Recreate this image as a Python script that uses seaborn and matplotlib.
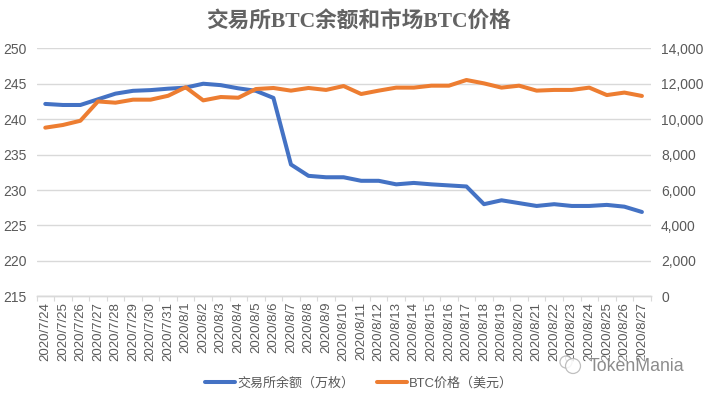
import matplotlib
matplotlib.use("Agg")
import matplotlib.pyplot as plt
from matplotlib.lines import Line2D
from matplotlib.patches import Circle
from matplotlib.ticker import FixedLocator, FuncFormatter
import numpy as np
import pandas as pd
import seaborn as sns

dates = ["2020/7/24","2020/7/25","2020/7/26","2020/7/27","2020/7/28","2020/7/29","2020/7/30","2020/7/31",
         "2020/8/1","2020/8/2","2020/8/3","2020/8/4","2020/8/5","2020/8/6","2020/8/7","2020/8/8","2020/8/9",
         "2020/8/10","2020/8/11","2020/8/12","2020/8/13","2020/8/14","2020/8/15","2020/8/16","2020/8/17",
         "2020/8/18","2020/8/19","2020/8/20","2020/8/21","2020/8/22","2020/8/23","2020/8/24","2020/8/25",
         "2020/8/26","2020/8/27"]
balance = [242.15,242.0,242.0,242.8,243.6,244.0,244.1,244.3,244.45,245.0,244.8,244.35,244.0,243.0,233.6,
           232.0,231.8,231.8,231.3,231.3,230.8,231.0,230.8,230.65,230.5,228.0,228.55,228.15,227.75,228.0,
           227.75,227.75,227.9,227.65,226.9]
price = [9520,9670,9910,11000,10930,11100,11100,11320,11800,11060,11250,11210,11700,11760,11610,11760,11650,
         11870,11420,11610,11780,11780,11890,11890,12210,12020,11780,11890,11610,11650,11650,11780,11360,
         11500,11310]

BLUE = "#4472C4"
ORANGE = "#ED7D31"
GRID = "#D9D9D9"
TXT = "#595959"
LW = 2.9

sns.set_theme(style="white")
plt.rcParams["font.family"] = ["Liberation Sans", "Noto Sans CJK SC"]
serif = ["Liberation Serif", "Noto Sans CJK SC"]

df = pd.DataFrame({"pos": np.arange(len(dates)), "date": dates, "balance": balance, "price": price})

fig = plt.figure(figsize=(7.06, 3.94), dpi=100)
W, H = 706, 394
ax = fig.add_axes([36.5 / W, 1 - 296.3 / H, (650.7 - 36.5) / W, (296.3 - 48.3) / H])
ax2 = ax.twinx()

sns.lineplot(data=df, x="pos", y="balance", ax=ax, color=BLUE, lw=LW, legend=False, zorder=3)
sns.lineplot(data=df, x="pos", y="price", ax=ax2, color=ORANGE, lw=LW, legend=False, zorder=3)

ax.set_xlim(-0.5, len(dates) - 0.5)
ax.set_ylim(215, 250)
ax2.set_ylim(0, 14000)
ax.set_yticks(range(215, 251, 5))
ax2.set_yticks(range(0, 14001, 2000))
ax2.yaxis.set_major_formatter(FuncFormatter(lambda v, _: f"{int(v):,}"))
ax.set_xlabel(""); ax.set_ylabel(""); ax2.set_ylabel("")

ax.yaxis.grid(True, color=GRID, lw=1.0)
ax.set_axisbelow(True)
ax.tick_params(axis="y", length=0, labelsize=10, labelcolor=TXT, pad=7)
ax2.tick_params(axis="y", length=0, labelsize=10, labelcolor=TXT, pad=7.5)

ax.xaxis.set_major_locator(FixedLocator(np.arange(len(dates) + 1) - 0.5))
ax.xaxis.set_major_formatter(FuncFormatter(lambda v, _: ""))
ax.xaxis.set_minor_locator(FixedLocator(df["pos"].values))
ax.set_xticklabels(dates, minor=True, rotation=90, fontsize=9.5, color=TXT)
ax.tick_params(axis="x", which="major", length=3.5, width=0.8, color=GRID, bottom=True)
ax.tick_params(axis="x", which="minor", length=0, pad=4, bottom=True)

for a in (ax, ax2):
    for s in ("top", "left", "right"):
        a.spines[s].set_visible(False)
    a.spines["bottom"].set_color(GRID)
    a.spines["bottom"].set_linewidth(1.0)

fig.text(358 / W, 1 - 22 / H, "交易所BTC余额和市场BTC价格", ha="center", va="center",
         fontsize=15.6, fontweight="bold", color="#636363", family=serif)

handles = [Line2D([], [], color=BLUE, lw=LW), Line2D([], [], color=ORANGE, lw=LW)]
fig.legend(handles, ["交易所余额（万枚）", "BTC价格（美元）"], loc="center", bbox_to_anchor=(359 / W, 1 - 383.5 / H),
           ncol=2, frameon=False, fontsize=9.4, labelcolor=TXT, handlelength=2.3, handletextpad=0.2,
           columnspacing=1.7, borderaxespad=0, borderpad=0)

# watermark: faint logo and name laid over the date labels
for cx, cy, r in [(566, 362, 6), (573, 366, 7.5)]:
    fig.add_artist(Circle((cx, H - cy), r, transform=None, fc="white", ec="#b5b5b5", lw=0.9, alpha=0.85, zorder=9))
fig.text(684 / W, 1 - 366.5 / H, "TokenMania", ha="right", va="center", fontsize=12.8, color="#8c8c8c",
         zorder=10, bbox=dict(fc="white", ec="none", alpha=0.35, pad=0.5))

fig.savefig("out.png", dpi=100)
